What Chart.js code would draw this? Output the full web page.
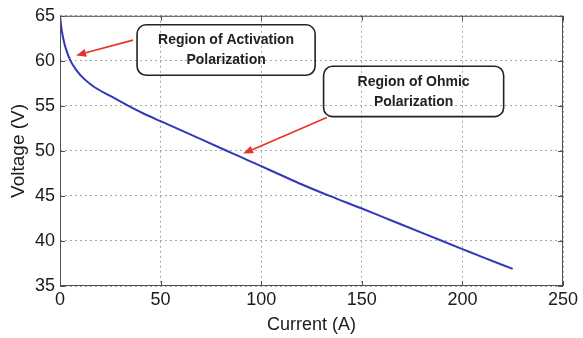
<!DOCTYPE html>
<html>
<head>
<meta charset="utf-8">
<script src="https://cdn.jsdelivr.net/npm/chart.js@4/dist/chart.umd.min.js"></script>
<style>
  html, body { margin: 0; padding: 0; background: #fff; }
  #wrap { width: 583px; height: 338px; }
</style>
</head>
<body>
<div id="wrap"><canvas id="c" width="583" height="338"></canvas></div>
<script>
// Polarization curve of the stack: current (A) vs stack voltage (V)
const current = [0, 0.5, 1, 2, 3, 5, 8, 12, 17, 25, 34, 42, 50, 60, 70, 82, 90, 100, 110, 120, 134, 150, 160, 170, 180, 190, 200, 210, 225];
const voltage = [65.0, 64.0, 63.2, 62.1, 61.3, 60.1, 59.0, 58.0, 57.1, 56.1, 55.0, 54.1, 53.3, 52.3, 51.3, 50.1, 49.3, 48.3, 47.3, 46.3, 45.0, 43.6, 42.7, 41.8, 40.9, 40.0, 39.1, 38.2, 36.9];

const xTicks = [0, 50, 100, 150, 200, 250];
const yTicks = [35, 40, 45, 50, 55, 60, 65];

// Callout boxes (data coords of box corners) and arrows (data coords: tail -> head)
const callouts = [
  { lines: ['Region of Activation', 'Polarization'], box: [38.3, 64.0, 126.8, 58.4], from: [36.3, 62.3], to: [8.0, 60.6] },
  { lines: ['Region of Ohmic', 'Polarization'], box: [131.0, 59.4, 220.5, 53.8], from: [132.6, 53.7], to: [91.0, 49.7] }
];

const frameAndNotes = {
  id: 'frameAndNotes',
  afterDraw(chart) {
    const { ctx, chartArea: a, scales: { x, y } } = chart;
    ctx.save();
    // axes box with inward tick marks on all four sides
    ctx.strokeStyle = '#505050';
    ctx.lineWidth = 1;
    ctx.strokeRect(a.left + 0.5, a.top + 0.5, a.right - a.left - 1, a.bottom - a.top - 1);
    ctx.beginPath();
    xTicks.forEach(v => {
      const px = Math.round(x.getPixelForValue(v)) + 0.5;
      ctx.moveTo(px, a.bottom); ctx.lineTo(px, a.bottom - 5);
      ctx.moveTo(px, a.top); ctx.lineTo(px, a.top + 5);
    });
    yTicks.forEach(v => {
      const py = Math.round(y.getPixelForValue(v)) + 0.5;
      ctx.moveTo(a.left, py); ctx.lineTo(a.left + 5, py);
      ctx.moveTo(a.right, py); ctx.lineTo(a.right - 5, py);
    });
    ctx.stroke();

    // callouts
    callouts.forEach(c => {
      const x1 = x.getPixelForValue(c.box[0]), y1 = y.getPixelForValue(c.box[1]);
      const x2 = x.getPixelForValue(c.box[2]), y2 = y.getPixelForValue(c.box[3]);
      ctx.strokeStyle = '#222';
      ctx.lineWidth = 1.6;
      ctx.beginPath();
      ctx.roundRect(x1, y1, x2 - x1, y2 - y1, 9);
      ctx.stroke();
      ctx.fillStyle = '#222';
      ctx.font = 'bold 14px "Liberation Sans", Arial, sans-serif';
      ctx.textAlign = 'center';
      ctx.textBaseline = 'middle';
      const cx = (x1 + x2) / 2, cy = (y1 + y2) / 2;
      ctx.fillText(c.lines[0], cx, cy - 9.5);
      ctx.fillText(c.lines[1], cx, cy + 10.5);

      // arrow
      const fx = x.getPixelForValue(c.from[0]), fy = y.getPixelForValue(c.from[1]);
      const tx = x.getPixelForValue(c.to[0]), ty = y.getPixelForValue(c.to[1]);
      const ang = Math.atan2(ty - fy, tx - fx);
      const hl = 10, hw = 4;
      const bx = tx - hl * Math.cos(ang), by = ty - hl * Math.sin(ang);
      ctx.strokeStyle = '#e8312b';
      ctx.fillStyle = '#e8312b';
      ctx.lineWidth = 1.6;
      ctx.beginPath();
      ctx.moveTo(fx, fy); ctx.lineTo(bx, by);
      ctx.stroke();
      ctx.beginPath();
      ctx.moveTo(tx, ty);
      ctx.lineTo(bx + hw * Math.sin(ang), by - hw * Math.cos(ang));
      ctx.lineTo(bx - hw * Math.sin(ang), by + hw * Math.cos(ang));
      ctx.closePath();
      ctx.fill();
    });
    ctx.restore();
  }
};

const tickFont = { family: '"Liberation Sans", Arial, sans-serif', size: 18 };
const xTitleFont = { family: '"Liberation Sans", Arial, sans-serif', size: 18 };
const yTitleFont = { family: '"Liberation Sans", Arial, sans-serif', size: 19 };

new Chart(document.getElementById('c'), {
  type: 'line',
  data: {
    datasets: [{
      data: current.map((v, i) => ({ x: v, y: voltage[i] })),
      borderColor: '#3139b8',
      borderWidth: 2,
      pointRadius: 0,
      fill: false,
      cubicInterpolationMode: 'monotone'
    }]
  },
  options: {
    responsive: false,
    animation: false,
    events: [],
    layout: { padding: { top: 13, right: 20, left: 0, bottom: 0 } },
    plugins: { legend: { display: false }, tooltip: { enabled: false } },
    scales: {
      x: {
        type: 'linear',
        min: 0, max: 250,
        afterBuildTicks: s => { s.ticks = xTicks.map(v => ({ value: v })); },
        afterFit: s => { s.height = 52; },
        ticks: { font: tickFont, color: '#1a1a1a', padding: 3, maxRotation: 0 },
        grid: { color: '#a8a8a8', lineWidth: 1, drawTicks: false },
        border: { display: false, dash: [2, 3] },
        title: { display: true, text: 'Current (A)', font: xTitleFont, color: '#1a1a1a', padding: { top: 0, bottom: 2 } }
      },
      y: {
        type: 'linear',
        min: 35, max: 65,
        afterBuildTicks: s => { s.ticks = yTicks.map(v => ({ value: v })); },
        afterFit: s => { s.width = 60; },
        ticks: { font: tickFont, color: '#1a1a1a', padding: 5 },
        grid: { color: '#a8a8a8', lineWidth: 1, drawTicks: false },
        border: { display: false, dash: [2, 3] },
        title: { display: true, text: 'Voltage (V)', font: yTitleFont, color: '#1a1a1a', padding: { top: 7, bottom: 0 } }
      }
    }
  },
  plugins: [frameAndNotes]
});
</script>
</body>
</html>
